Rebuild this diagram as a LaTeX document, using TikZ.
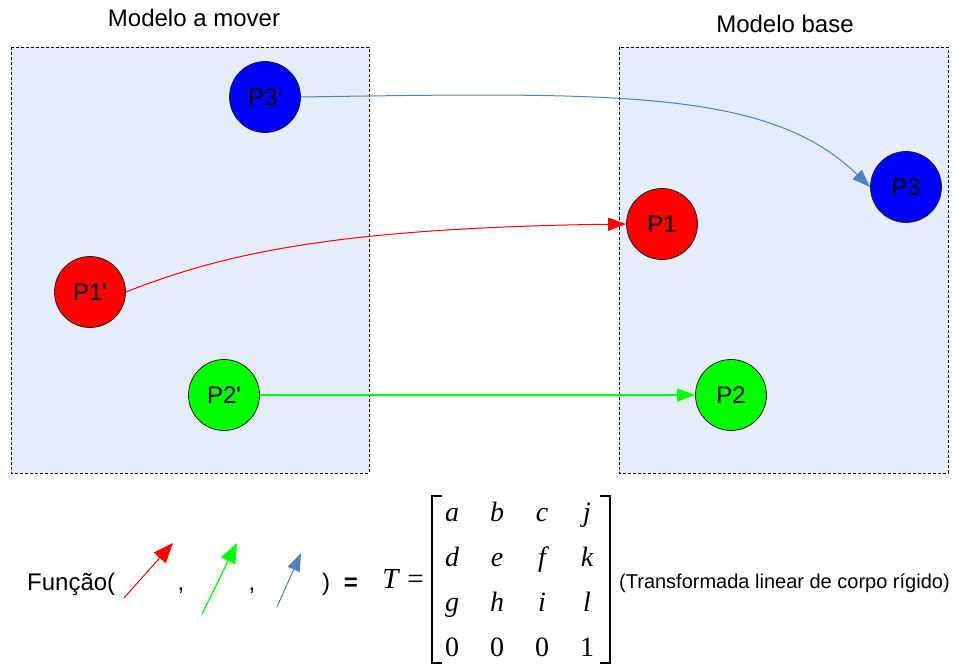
\documentclass[tikz,border=0pt]{standalone}
\usepackage{fontspec}
\setmainfont{Liberation Sans}
\newfontfamily\tms{Liberation Serif}
\usetikzlibrary{arrows.meta,matrix}
\definecolor{boxfill}{HTML}{E6EDF8}
\definecolor{linkblue}{HTML}{4F81BD}
\definecolor{ptred}{HTML}{FF0000}
\definecolor{ptgreen}{HTML}{00FF00}
\definecolor{ptblue}{HTML}{0000FF}
\definecolor{rim}{HTML}{202020}
\begin{document}
\begin{tikzpicture}[x=1pt,y=-1pt,
  modelbox/.style={draw=black,fill=boxfill,line width=0.8pt,dash pattern=on 3pt off 2pt},
  pt/.style={circle,draw=rim,line width=0.8pt,minimum size=71pt,inner sep=0pt,font=\fontsize{24}{26}\selectfont},
  link/.style={line width=1pt,-{Triangle[length=18pt,width=13pt]}},
  biglink/.style={line width=1pt,-{Triangle[length=20pt,width=16pt]}},
  lbl/.style={inner sep=0pt,anchor=base,font=\fontsize{24}{26}\selectfont},
  cell/.style={minimum width=45pt,minimum height=45pt,inner sep=0pt,text height=20pt,text depth=6pt,
    font=\tms\itshape\fontsize{28}{30}\selectfont},
  numcell/.style={font=\tms\fontsize{28}{30}\selectfont}
]
\useasboundingbox (0,0) rectangle (954,666);

% boxes
\draw[modelbox] (11,47) rectangle (369,473);
\draw[modelbox] (619,47) rectangle (948,473);

% titles
\node[lbl] (t1) at (194,27) {Modelo a mover};
\node[lbl] (t2) at (785,33) {Modelo base};

% points
\node[pt,fill=ptblue] (P3p) at (265,97) {P3\textquotesingle};
\node[pt,fill=ptred] (P1p) at (90,292) {P1\textquotesingle};
\node[pt,fill=ptgreen] (P2p) at (224,395) {P2\textquotesingle};
\node[pt,fill=ptred] (P1) at (662,224) {P1};
\node[pt,fill=ptblue] (P3) at (906,187) {P3};
\node[pt,fill=ptgreen] (P2) at (731,395) {P2};

% connectors
\draw[link,linkblue] (P3p.east) .. controls (620,92) and (770,90) .. (P3.west);
\draw[link,ptred] (P1p.east) .. controls (220,255) and (330,228) .. (P1.west);
\draw[link,ptgreen,line width=1.3pt] (P2p.east) -- (P2.west);

% bottom formula
\node[lbl,anchor=base west] (fn) at (27,590) {Função(};
\coordinate (ra) at (124,598); \coordinate (rb) at (173,543);
\coordinate (ga) at (202,614); \coordinate (gb) at (237,543);
\coordinate (ba) at (277,607); \coordinate (bb) at (301,553);
\draw[biglink,ptred] (ra) -- (rb);
\draw[biglink,ptgreen,line width=1.2pt] (ga) -- (gb);
\draw[link,linkblue] (ba) -- (bb);
\node[lbl] (c1) at (181,590) {,};
\node[lbl] (c2) at (252,590) {,};
\node[lbl] (cp) at (326,590) {)};
\node[lbl,font=\bfseries\fontsize{24}{26}\selectfont] (eq) at (351,590) {=};
\node[inner sep=0pt,anchor=base east,font=\tms\fontsize{29}{31}\selectfont] (T) at (424,588) {\itshape T\upshape\kern 9pt =};

\matrix[matrix of nodes,inner sep=0pt,column sep=0pt,row sep=0pt,nodes={cell}] (m) at (519.5,581.5) {
a & b & c & j \\
d & e & f & k \\
g & h & i & l \\
|[numcell]| 0 & |[numcell]| 0 & |[numcell]| 0 & |[numcell]| 1 \\
};
\draw[line width=1.3pt] (442,496) -- (432,496) -- (432,663) -- (442,663);
\draw[line width=1.3pt] (600,496) -- (610,496) -- (610,663) -- (600,663);

\node[lbl,anchor=base west,font=\fontsize{20}{22}\selectfont] (tr) at (619,588) {(Transformada linear de corpo rígido)};
\end{tikzpicture}
\end{document}
